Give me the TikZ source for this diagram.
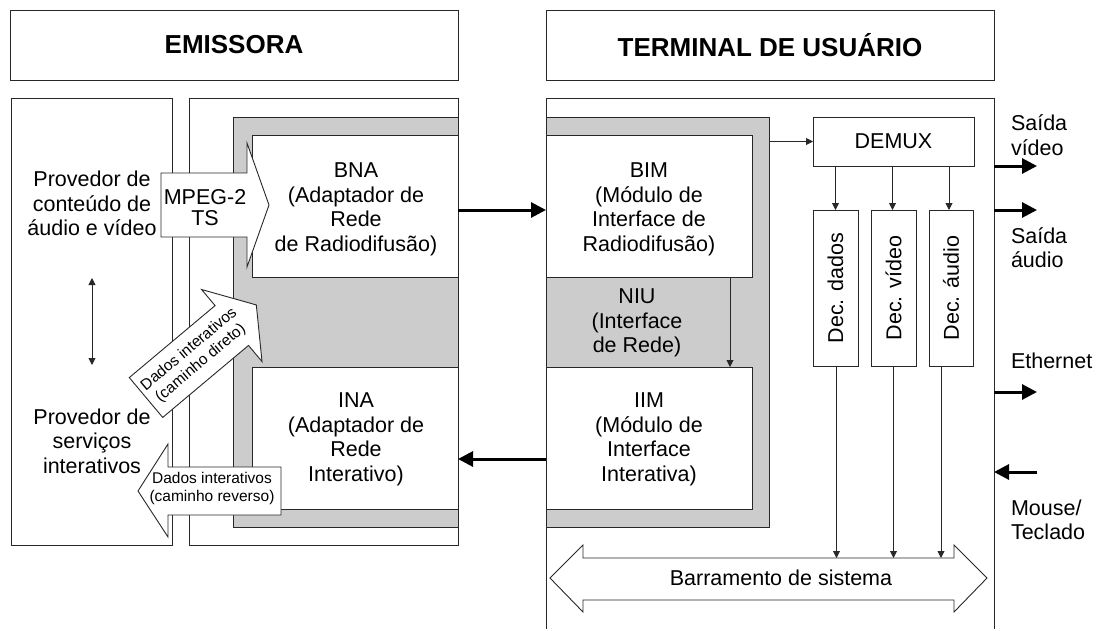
\documentclass[tikz,border=0pt]{standalone}
\usepackage{fontspec}
\setmainfont{Liberation Sans}
\usetikzlibrary{arrows.meta}
\definecolor{panelgray}{RGB}{204,204,204}
\definecolor{edge}{RGB}{40,40,40}
\begin{document}
\begin{tikzpicture}[x=1pt,y=-1pt,
  every node/.style={inner sep=0pt, outer sep=0pt},
  blockbox/.style={draw=edge, line width=0.9pt, fill=white, anchor=north west},
  graypanel/.style={draw=edge, line width=0.9pt, fill=panelgray, anchor=north west},
  bodytext/.style={font=\fontsize{21.5}{24.5}\selectfont, align=center},
  smalltext/.style={font=\fontsize{15.5}{18}\selectfont, align=center},
  headtext/.style={font=\fontsize{26}{30}\selectfont\bfseries},
  thinarrow/.style={draw=edge, line width=0.9pt, -{Triangle[length=7pt,width=7pt]}},
  thickarrow/.style={draw=black, line width=3pt, -{Triangle[length=15pt,width=15pt]}},
  blockarrow/.style={draw=edge, line width=0.9pt, fill=white, line join=miter},
]
\useasboundingbox (0,0) rectangle (1101,630);

% ---------- headers ----------
\node[blockbox, minimum width=448pt, minimum height=70pt] (hdrE) at (10,10) {};
\node[headtext] (hdrEtext) at (hdrE.center) {EMISSORA};
\node[blockbox, minimum width=448pt, minimum height=70pt] (hdrT) at (546,10) {};
\node[headtext] (hdrTtext) at (hdrT.center) {TERMINAL DE USUÁRIO};

% ---------- broadcaster side ----------
\node[blockbox, minimum width=161pt, minimum height=447pt] (provbox) at (11,98) {};
\node[blockbox, minimum width=269pt, minimum height=447pt] (emisbox) at (189,98) {};
\node[graypanel, minimum width=225pt, minimum height=410pt] (emisgray) at (233,117) {};
\node[blockbox, minimum width=206pt, minimum height=142pt] (bna) at (252,135) {};
\node[blockbox, minimum width=206pt, minimum height=142pt] (ina) at (252,367) {};
\node[bodytext] (bnatext) at (356,209.5) {BNA\\(Adaptador de\\Rede\\de Radiodifusão)};
\node[bodytext] (inatext) at (356,439.5) {INA\\(Adaptador de\\Rede\\Interativo)};

% ---------- user terminal side ----------
\coordinate (tBL) at (546,629);
\coordinate (tTL) at (546,98);
\coordinate (tTR) at (994,98);
\coordinate (tBR) at (994,629);
\draw[draw=edge, line width=0.9pt] (tBL) -- (tTL) -- (tTR) -- (tBR);
\node[graypanel, minimum width=223pt, minimum height=410pt] (termgray) at (546,117) {};
\node[blockbox, minimum width=206pt, minimum height=142pt] (bim) at (546,135) {};
\node[blockbox, minimum width=206pt, minimum height=142pt] (iim) at (546,367) {};
\node[bodytext] (bimtext) at (649,209.5) {BIM\\(Módulo de\\Interface de\\Radiodifusão)};
\node[bodytext] (niutext) at (637,323) {NIU\\(Interface\\de Rede)};
\node[bodytext] (iimtext) at (649,439.5) {IIM\\(Módulo de\\Interface\\Interativa)};
\draw[thinarrow] ([xshift=-22pt]bim.south east) -- ([xshift=-22pt]iim.north east);

\node[blockbox, minimum width=161pt, minimum height=49pt] (demux) at (813,117) {};
\node[bodytext] (demuxtext) at (demux.center) {DEMUX};
\draw[thinarrow] (demux.west -| termgray.east) -- (demux.west);

\node[blockbox, minimum width=45pt, minimum height=156pt] (decD) at (813,210) {};
\node[blockbox, minimum width=45pt, minimum height=156pt] (decV) at (871,210) {};
\node[blockbox, minimum width=44pt, minimum height=156pt] (decA) at (929,210) {};
\node[bodytext, rotate=90] (decDtext) at (decD.center) {Dec. dados};
\node[bodytext, rotate=90] (decVtext) at (decV.center) {Dec. vídeo};
\node[bodytext, rotate=90] (decAtext) at (decA.center) {Dec. áudio};
\draw[thinarrow] (demux.south -| decD.north) -- (decD.north);
\draw[thinarrow] ([xshift=-1pt]demux.south -| decV.north) -- ([xshift=-1pt]decV.north);
\draw[thinarrow] ([xshift=-2pt]demux.south -| decA.north) -- ([xshift=-2pt]decA.north);

% system bus
\coordinate (busL) at (550,578);
\coordinate (busR) at (987,578);
\coordinate (busTop) at (583,558);
\draw[blockarrow] (busL) -- (583,545) -- (busTop) -- (954,558) -- (954,545) -- (busR)
  -- (954,612) -- (954,600) -- (583,600) -- (583,612) -- cycle;
\node[bodytext] (bustext) at (781,578) {Barramento de sistema};
\draw[thinarrow] ([xshift=1pt]decD.south) -- ([xshift=1pt]decD.south |- busTop);
\draw[thinarrow] (decV.south) -- (decV.south |- busTop);
\draw[thinarrow] ([xshift=-10pt]decA.south) -- ([xshift=-10pt]decA.south |- busTop);

% ---------- external interfaces ----------
\coordinate (outV0) at (994,166);  \coordinate (outV1) at (1037,166);
\coordinate (outA0) at (994,210);  \coordinate (outA1) at (1037,210);
\coordinate (eth0) at (994,392);   \coordinate (eth1) at (1037,392);
\coordinate (mouse0) at (1037,472); \coordinate (mouse1) at (994,472);
\draw[thickarrow] (outV0) -- (outV1);
\draw[thickarrow] (outA0) -- (outA1);
\draw[thickarrow] (eth0) -- (eth1);
\draw[thickarrow] (mouse0) -- (mouse1);
\node[bodytext, align=left, anchor=west] (outVtext) at (1011,135) {Saída\\vídeo};
\node[bodytext, align=left, anchor=west] (outAtext) at (1011,247.5) {Saída\\áudio};
\node[bodytext, align=left, anchor=west] (ethtext) at (1011,361) {Ethernet};
\node[bodytext, align=left, anchor=west] (mousetext) at (1011,520) {Mouse/\\Teclado};

% ---------- links between broadcaster and terminal ----------
\draw[thickarrow] ([yshift=-4pt]bna.east) -- ([yshift=-4pt]bim.west);
\draw[thickarrow] ([yshift=-21pt]iim.west) -- ([yshift=-21pt]ina.east);

% ---------- providers ----------
\node[bodytext] (provA) at (92,203.5) {Provedor de\\conteúdo de\\áudio e vídeo};
\node[bodytext] (provB) at (92,441) {Provedor de\\serviços\\interativos};
\coordinate (linkTop) at (92,278);
\coordinate (linkBot) at (92,365);
\draw[draw=edge, line width=0.9pt, {Triangle[length=7pt,width=7pt]}-{Triangle[length=7pt,width=7pt]}] (linkTop) -- (linkBot);

% MPEG-2 transport stream
\draw[blockarrow] (161,173) -- (247,173) -- (247,143) -- (269,205) -- (247,267) -- (247,237) -- (161,237) -- cycle;
\node[font=\fontsize{21.5}{21.5}\selectfont, align=center] (mpegtext) at (205,207.5) {MPEG-2\\TS};

% interactive data, forward path
\begin{scope}[shift={(146,397.5)}, rotate=40]
  \draw[blockarrow] (0,-26) -- (112,-26) -- (112,-47) -- (144,0) -- (112,47) -- (112,26) -- (0,26) -- cycle;
  \node[smalltext, rotate=40] (directtext) at (64,0) {Dados interativos\\(caminho direto)};
\end{scope}

% interactive data, return path
\draw[blockarrow] (281,467) -- (168,467) -- (168,444) -- (138,491) -- (168,537) -- (168,515) -- (281,515) -- cycle;
\node[smalltext] (reversetext) at (212,488) {Dados interativos\\(caminho reverso)};
\end{tikzpicture}
\end{document}
